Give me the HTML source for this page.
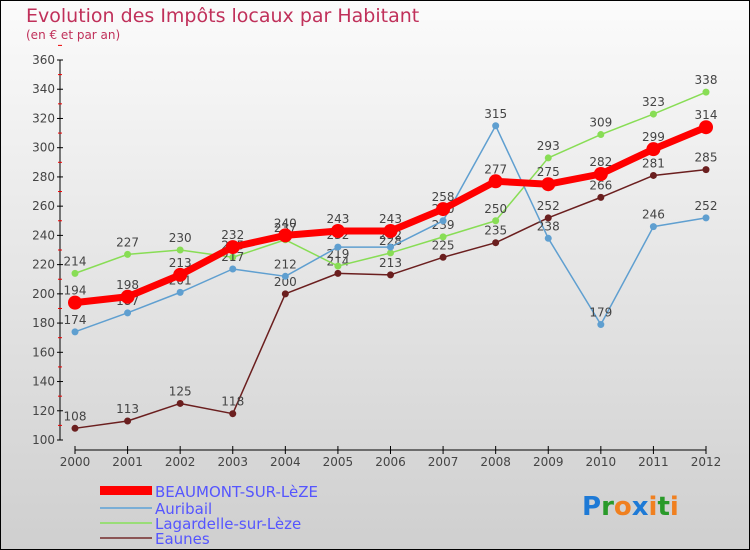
<!DOCTYPE html>
<html><head><meta charset="utf-8"><style>
body{margin:0;width:750px;height:550px;overflow:hidden}
svg{display:block;font-family:"DejaVu Sans","Liberation Sans",sans-serif}
</style></head><body>
<svg id="c" width="750" height="550">
<defs><linearGradient id="bg" x1="0" y1="0" x2="0" y2="1"><stop offset="0" stop-color="#fbfbfb"/><stop offset="1" stop-color="#cfcfcf"/></linearGradient></defs>
<rect x="0.5" y="0.5" width="749" height="549" fill="url(#bg)" stroke="#000"/>
<text x="26" y="22" font-size="19" fill="#c0305a">Evolution des Impôts locaux par Habitant</text>
<text x="26" y="39" font-size="12" fill="#c0305a">(en € et par an)</text>
<g id="axes"></g><g id="series"></g>
<g>
<rect x="100" y="486" width="52" height="9" fill="#f00"/>
<text x="155" y="497" font-size="15" fill="#5555ff">BEAUMONT-SUR-LèZE</text>
<rect x="100" y="507" width="52" height="2" fill="#7aaed6"/>
<text x="155" y="514" font-size="15" fill="#5555ff">Auribail</text>
<rect x="100" y="522" width="52" height="2" fill="#99dd77"/>
<text x="155" y="529" font-size="15" fill="#5555ff">Lagardelle-sur-Lèze</text>
<rect x="100" y="537" width="52" height="2" fill="#8b5555"/>
<text x="155" y="544" font-size="15" fill="#5555ff">Eaunes</text>
</g>
<text x="582" y="515" font-size="26" font-weight="bold"><tspan fill="#1e7ad6">P</tspan><tspan fill="#2a9a2a">r</tspan><tspan fill="#f08020">o</tspan><tspan fill="#1e7ad6">x</tspan><tspan fill="#f08020">i</tspan><tspan fill="#2a9a2a">t</tspan><tspan fill="#f08020">i</tspan></text>
</svg>
<script>
const years=[2000,2001,2002,2003,2004,2005,2006,2007,2008,2009,2010,2011,2012];
const yTicks=[100,120,140,160,180,200,220,240,260,280,300,320,340,360];
const beaumont=[194,198,213,232,240,243,243,258,277,275,282,299,314];
const auribail=[174,187,201,217,212,232,232,250,315,238,179,246,252];
const lagardelle=[214,227,230,225,237,219,228,239,250,293,309,323,338];
const eaunes=[108,113,125,118,200,214,213,225,235,252,266,281,285];
const NS="http://www.w3.org/2000/svg";
const x=i=>75+i*(706-75)/(years.length-1);
const y=v=>440-(v-100)*380/260;
function mk(t,a,p){const e=document.createElementNS(NS,t);for(const k in a)e.setAttribute(k,a[k]);p.appendChild(e);return e;}
const ax=document.getElementById('axes');
let l=mk('line',{x1:60,y1:y(360),x2:60,y2:y(100),stroke:'#000'},ax);


yTicks.forEach(v=>{
 mk('line',{x1:57,y1:y(v),x2:63,y2:y(v),stroke:'#000'},ax);
 mk('line',{x1:58,y1:y(v+10),x2:62,y2:y(v+10),stroke:'#e00'},ax);
 const t=mk('text',{x:55,y:y(v)+4,'font-size':12,fill:'#444','text-anchor':'end'},ax);t.textContent=v;
 
 
});
l=mk('line',{x1:x(0),y1:450,x2:x(12),y2:450,stroke:'#000'},ax);


years.forEach((yr,i)=>{
 mk('line',{x1:x(i),y1:446,x2:x(i),y2:454,stroke:'#000'},ax);
 const t=mk('text',{x:x(i),y:466,'font-size':12,fill:'#444','text-anchor':'middle'},ax);t.textContent=yr;
 
 
});
const sg=document.getElementById('series');
function series(name,data,color,w,r){
 const g=mk('g',{},sg);
 
 
 mk('polyline',{points:data.map((v,i)=>x(i)+','+y(v)).join(' '),fill:'none',stroke:color,'stroke-width':w,'stroke-linejoin':'round'},g);
 data.forEach((v,i)=>{
  const c=mk('circle',{cx:x(i),cy:y(v),r:r,fill:color},g);
  
  
  const t=mk('text',{x:x(i),y:y(v)-8,'font-size':12,fill:'#444','text-anchor':'middle'},g);t.textContent=v;
  
  
 });
}
series('eaunes',eaunes,'#6b1f1f',1.5,3.5);
series('lagardelle',lagardelle,'#88dd55',1.5,3.5);
series('auribail',auribail,'#5f9fd0',1.5,3.5);
series('beaumont',beaumont,'#f00',7,7);
</script>
</body></html>
